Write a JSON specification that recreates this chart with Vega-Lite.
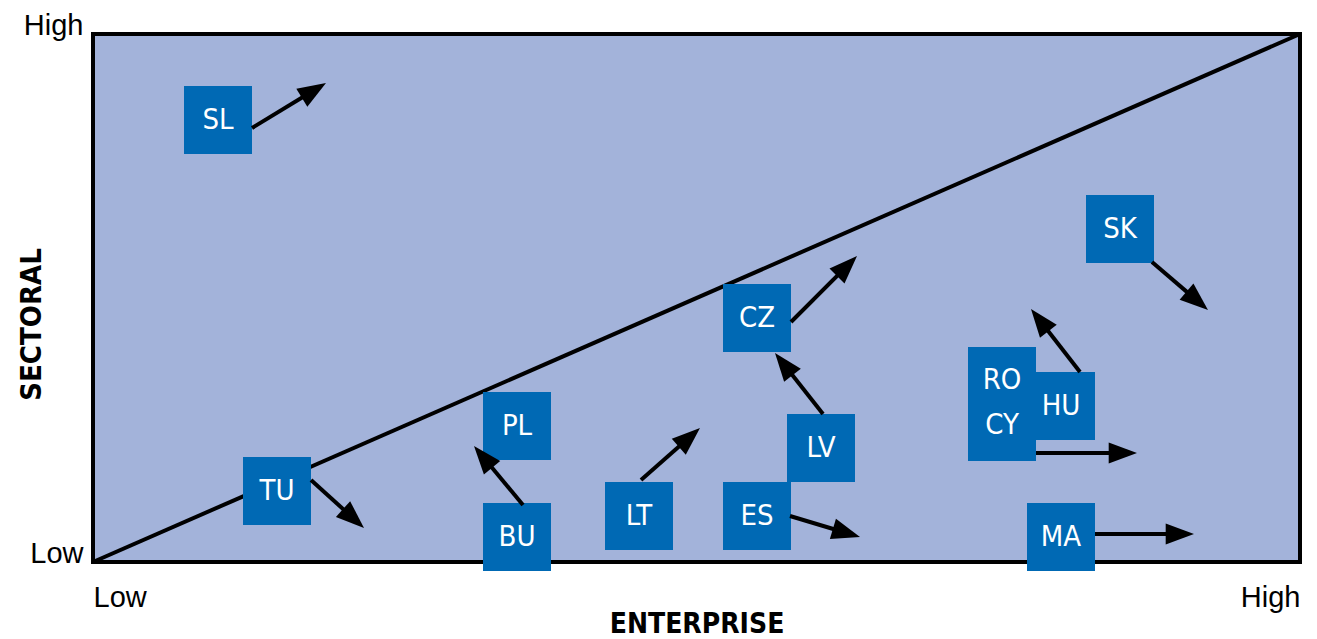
{
  "$schema": "https://vega.github.io/schema/vega-lite/v6.json",
  "width": 1207,
  "height": 528,
  "autosize": "none",
  "padding": {"left": 93, "top": 34, "right": 17, "bottom": 77},
  "background": "white",
  "config": {
    "view": {"stroke": null},
    "axis": {"grid": false, "domain": false, "ticks": false, "labelColor": "#000000", "titleColor": "#000000"}
  },
  "datasets": {
    "frame": [{"x1": 0, "y1": 0, "x2": 1207, "y2": 528}],
    "boxes": [
      {"label": "SL", "x1": 91, "x2": 159, "y1": 408, "y2": 476},
      {"label": "TU", "x1": 150, "x2": 218, "y1": 37, "y2": 105},
      {"label": "PL", "x1": 390, "x2": 458, "y1": 102, "y2": 170},
      {"label": "BU", "x1": 390, "x2": 458, "y1": -9, "y2": 59},
      {"label": "LT", "x1": 512, "x2": 580, "y1": 12, "y2": 80},
      {"label": "ES", "x1": 630, "x2": 698, "y1": 12, "y2": 80},
      {"label": "CZ", "x1": 630, "x2": 698, "y1": 210, "y2": 278},
      {"label": "LV", "x1": 694, "x2": 762, "y1": 80, "y2": 148},
      {"label": "HU", "x1": 934, "x2": 1002, "y1": 122, "y2": 190},
      {"label": "RO/CY", "x1": 875, "x2": 943, "y1": 101, "y2": 215},
      {"label": "SK", "x1": 993, "x2": 1061, "y1": 299, "y2": 367},
      {"label": "MA", "x1": 934, "x2": 1002, "y1": -9, "y2": 59}
    ],
    "labels": [
      {"label": "SL", "x": 125, "y": 442},
      {"label": "TU", "x": 184, "y": 71},
      {"label": "PL", "x": 424, "y": 136},
      {"label": "BU", "x": 424, "y": 25},
      {"label": "LT", "x": 546, "y": 46},
      {"label": "ES", "x": 664, "y": 46},
      {"label": "CZ", "x": 664, "y": 244},
      {"label": "LV", "x": 728, "y": 114},
      {"label": "HU", "x": 968, "y": 156},
      {"label": "RO", "x": 909, "y": 182},
      {"label": "CY", "x": 909, "y": 137},
      {"label": "SK", "x": 1027, "y": 333},
      {"label": "MA", "x": 968, "y": 25}
    ],
    "arrows": [
      {"country": "SL", "x1": 159, "y1": 434, "x2": 233, "y2": 479},
      {"country": "TU", "x1": 218, "y1": 82, "x2": 271, "y2": 34},
      {"country": "BU", "x1": 430, "y1": 57, "x2": 381, "y2": 116},
      {"country": "LT", "x1": 548, "y1": 82, "x2": 607, "y2": 134},
      {"country": "ES", "x1": 697, "y1": 46, "x2": 767, "y2": 25},
      {"country": "CZ", "x1": 698, "y1": 240, "x2": 764, "y2": 306},
      {"country": "LV", "x1": 730, "y1": 148, "x2": 682, "y2": 209},
      {"country": "HU", "x1": 987, "y1": 190, "x2": 938, "y2": 253},
      {"country": "RO/CY", "x1": 943, "y1": 109, "x2": 1044, "y2": 109},
      {"country": "SK", "x1": 1059, "y1": 300, "x2": 1115, "y2": 252},
      {"country": "MA", "x1": 1002, "y1": 28, "x2": 1101, "y2": 28}
    ]
  },
  "layer": [
    {
      "data": {"name": "frame"},
      "mark": {"type": "rect", "fill": "#a3b3da", "stroke": "#000000", "strokeWidth": 4},
      "encoding": {
        "x": {
          "field": "x1", "type": "quantitative",
          "scale": {"domain": [0, 1207], "nice": false, "zero": false},
          "axis": {
            "values": [0, 1207],
            "labelExpr": "datum.value == 0 ? 'Low' : 'High'",
            "labelFlush": true,
            "labelFont": "Liberation Sans",
            "labelFontSize": 29,
            "labelBaseline": "top",
            "labelPadding": 21,
            "title": "ENTERPRISE",
            "titleFont": "DejaVu Sans Condensed, Liberation Sans",
            "titleFontSize": 28,
            "titleFontWeight": "bold",
            "titleBaseline": "alphabetic",
            "titleY": 70
          }
        },
        "x2": {"field": "x2"},
        "y": {
          "field": "y1", "type": "quantitative",
          "scale": {"domain": [0, 528], "nice": false, "zero": false},
          "axis": {
            "values": [0, 528],
            "labelExpr": "datum.value == 0 ? 'Low' : 'High'",
            "labelFont": "Liberation Sans",
            "labelFontSize": 29,
            "labelBaseline": "alphabetic",
            "labelAlign": "right",
            "labelPadding": 10,
            "title": "SECTORAL",
            "titleFont": "DejaVu Sans Condensed, Liberation Sans",
            "titleFontSize": 29,
            "titleFontWeight": "bold",
            "titleAngle": -90,
            "titleAlign": "center",
            "titleBaseline": "middle",
            "titleX": -62,
            "titleY": 290
          }
        },
        "y2": {"field": "y2"}
      }
    },
    {
      "data": {"name": "frame"},
      "mark": {"type": "rule", "color": "#000000", "strokeWidth": 4},
      "encoding": {
        "x": {"field": "x1", "type": "quantitative"},
        "x2": {"field": "x2"},
        "y": {"field": "y1", "type": "quantitative"},
        "y2": {"field": "y2"}
      }
    },
    {
      "data": {"name": "boxes"},
      "mark": {"type": "rect", "color": "#0069b4", "clip": false},
      "encoding": {
        "x": {"field": "x1", "type": "quantitative"},
        "x2": {"field": "x2"},
        "y": {"field": "y1", "type": "quantitative"},
        "y2": {"field": "y2"}
      }
    },
    {
      "data": {"name": "labels"},
      "mark": {"type": "text", "color": "#ffffff", "font": "DejaVu Sans Condensed, Liberation Sans", "fontSize": 29, "baseline": "middle", "align": "center"},
      "encoding": {
        "x": {"field": "x", "type": "quantitative"},
        "y": {"field": "y", "type": "quantitative"},
        "text": {"field": "label"}
      }
    },
    {
      "data": {"name": "arrows"},
      "transform": [
        {"calculate": "sqrt(pow(datum.x2 - datum.x1, 2) + pow(datum.y2 - datum.y1, 2))", "as": "len"},
        {"calculate": "datum.x2 - (datum.x2 - datum.x1) / datum.len * 14", "as": "xe"},
        {"calculate": "datum.y2 - (datum.y2 - datum.y1) / datum.len * 14", "as": "ye"}
      ],
      "mark": {"type": "rule", "color": "#000000", "strokeWidth": 4},
      "encoding": {
        "x": {"field": "x1", "type": "quantitative"},
        "x2": {"field": "xe"},
        "y": {"field": "y1", "type": "quantitative"},
        "y2": {"field": "ye"}
      }
    },
    {
      "data": {"name": "arrows"},
      "transform": [
        {"calculate": "atan2(datum.x2 - datum.x1, datum.y2 - datum.y1) * 180 / PI", "as": "ang"}
      ],
      "mark": {"type": "point", "shape": "M0,0L0.75,2L-0.75,2Z", "filled": true, "color": "#000000", "opacity": 1, "size": 800, "strokeWidth": 0},
      "encoding": {
        "x": {"field": "x2", "type": "quantitative"},
        "y": {"field": "y2", "type": "quantitative"},
        "angle": {"field": "ang", "type": "quantitative", "scale": null}
      }
    }
  ]
}
